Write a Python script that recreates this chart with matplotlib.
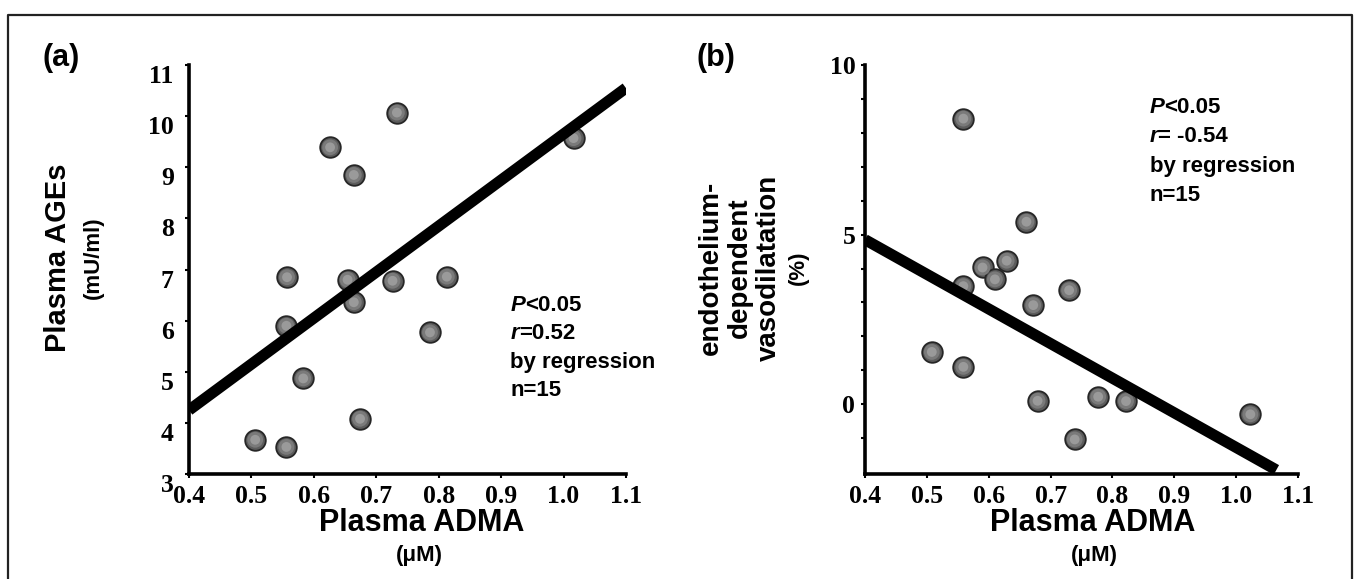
import matplotlib
matplotlib.use("Agg")
import matplotlib.pyplot as plt
import matplotlib.transforms as mtransforms
from matplotlib.lines import Line2D

# (a) plasma ADMA vs plasma AGEs
adma_a = [0.506, 0.556, 0.557, 0.556, 0.583, 0.626, 0.664, 0.654, 0.664, 0.674,
          0.726, 0.733, 0.786, 0.813, 1.016]
ages_a = [3.67, 3.53, 6.85, 5.90, 4.87, 9.39, 8.85, 6.80, 6.36, 4.08,
          6.78, 10.07, 5.77, 6.86, 9.57]
fit_a_x = [0.4, 1.1]
fit_a_y = [4.25, 10.55]

# (b) plasma ADMA vs endothelium-dependent vasodilatation
adma_b = [0.508, 0.559, 0.559, 0.559, 0.590, 0.610, 0.629, 0.661, 0.672, 0.679,
          0.730, 0.739, 0.777, 0.822, 1.023]
fmd_b = [1.54, 1.10, 3.48, 8.42, 4.03, 3.68, 4.23, 5.38, 2.92, 0.10,
         3.36, -1.04, 0.22, 0.09, -0.30]
fit_b_x = [0.4, 1.065]
fit_b_y = [4.85, -1.94]

xticks = [0.4, 0.5, 0.6, 0.7, 0.8, 0.9, 1.0, 1.1]
xticklabels = ["0.4", "0.5", "0.6", "0.7", "0.8", "0.9", "1.0", "1.1"]
yticks_a = [3, 4, 5, 6, 7, 8, 9, 10, 11]
yticks_b = [0, 5, 10]
yminor_b = [-1, 1, 2, 3, 4, 6, 7, 8, 9]

SANS = ["Liberation Sans", "DejaVu Sans"]
SERIF = ["Liberation Serif", "DejaVu Serif"]

fig = plt.figure(figsize=(13.59, 5.79), dpi=100)
ax_a = fig.add_axes([0.1391, 0.1813, 0.3215, 0.7064])
ax_b = fig.add_axes([0.6365, 0.1813, 0.3186, 0.7064])


def balls(ax, x, y):
    # shaded grey spheres
    ax.scatter(x, y, s=220, c="#5c5c5c", edgecolors="#262626", linewidths=1.3, zorder=3)
    ax.scatter(x, y, s=130, c="#7a7a7a", edgecolors="none", zorder=4)
    ax.scatter(x, y, s=50, c="#9a9a9a", edgecolors="none", zorder=5)


def style(ax, ypad):
    for side in ("top", "right"):
        ax.spines[side].set_visible(False)
    for side in ("left", "bottom"):
        ax.spines[side].set_linewidth(2.6)
    ax.set_xlim(0.4, 1.1)
    ax.set_xticks(xticks)
    ax.set_xticklabels(xticklabels)
    ax.tick_params(axis="x", direction="out", length=3, width=1.5, pad=5)
    ax.tick_params(axis="y", direction="out", length=3, width=1.5, pad=ypad)
    ax.tick_params(which="minor", direction="out", length=3, width=1.5)
    for lab in ax.get_xticklabels() + ax.get_yticklabels():
        lab.set_family(SERIF)
        lab.set_fontweight("bold")
        lab.set_fontsize(18.5)


def stats(ax, x, ys, rtext):
    t = ax.text(x, ys[0], "P", style="italic", fontsize=16, fontweight="bold",
                family=SANS, va="center")
    ax.annotate("<0.05", xy=(1, 0.5), xycoords=t, va="center", fontsize=16,
                fontweight="bold", family=SANS)
    t = ax.text(x, ys[1], "r", style="italic", fontsize=16, fontweight="bold",
                family=SANS, va="center")
    ax.annotate(rtext, xy=(1, 0.5), xycoords=t, va="center", fontsize=16,
                fontweight="bold", family=SANS)
    ax.text(x, ys[2], "by regression", fontsize=16, fontweight="bold",
            family=SANS, va="center")
    ax.text(x, ys[3], "n=15", fontsize=16, fontweight="bold",
            family=SANS, va="center")


# ---- panel (a)
balls(ax_a, adma_a, ages_a)
ax_a.plot(fit_a_x, fit_a_y, color="black", lw=8, solid_capstyle="butt", zorder=6)
ax_a.set_ylim(3, 11)
ax_a.set_yticks(yticks_a)
style(ax_a, 8)
shift = mtransforms.ScaledTranslation(0, -0.09, fig.dpi_scale_trans)
for lab in ax_a.get_yticklabels():
    lab.set_transform(lab.get_transform() + shift)

ax_a.text(-0.30, 0.528, "Plasma AGEs", rotation=90, ha="center", va="center",
          fontsize=21, fontweight="bold", family=SANS, transform=ax_a.transAxes)
ax_a.text(-0.22, 0.528, "(mU/ml)", rotation=90, ha="center", va="center",
          fontsize=16, fontweight="bold", family=SANS, transform=ax_a.transAxes)
ax_a.text(0.532, -0.12, "Plasma ADMA", ha="center", va="center",
          fontsize=22, fontweight="bold", family=SANS, transform=ax_a.transAxes)
ax_a.text(0.528, -0.198, "(\u03bcM)", ha="center", va="center",
          fontsize=16, fontweight="bold", family=SANS, transform=ax_a.transAxes)
stats(ax_a, 0.915, [6.29, 5.74, 5.19, 4.64], "=0.52")

# ---- panel (b)
balls(ax_b, adma_b, fmd_b)
ax_b.plot(fit_b_x, fit_b_y, color="black", lw=8, solid_capstyle="butt", zorder=6)
ax_b.set_ylim(-2.06, 10)
ax_b.set_yticks(yticks_b)
ax_b.set_yticks(yminor_b, minor=True)
style(ax_b, 4)

ax_b.text(-0.29, 0.504, "endothelium-\ndependent\nvasodilatation", rotation=90,
          ha="center", va="center", fontsize=20, fontweight="bold", family=SANS,
          linespacing=1.15, transform=ax_b.transAxes)
ax_b.text(-0.153, 0.504, "(%)", rotation=90, ha="center", va="center",
          fontsize=16, fontweight="bold", family=SANS, transform=ax_b.transAxes)
ax_b.text(0.525, -0.12, "Plasma ADMA", ha="center", va="center",
          fontsize=22, fontweight="bold", family=SANS, transform=ax_b.transAxes)
ax_b.text(0.53, -0.198, "(\u03bcM)", ha="center", va="center",
          fontsize=16, fontweight="bold", family=SANS, transform=ax_b.transAxes)
stats(ax_b, 0.86, [8.74, 7.88, 7.02, 6.15], "= -0.54")

# panel letters and outer frame
fig.text(43 / 1359, 1 - 43 / 579, "(a)", fontsize=22, fontweight="bold",
         family=SANS, ha="left", va="top")
fig.text(697 / 1359, 1 - 43 / 579, "(b)", fontsize=22, fontweight="bold",
         family=SANS, ha="left", va="top")
fx0, fx1, fy1 = 8 / 1359, 1352 / 1359, 1 - 15 / 579
fig.add_artist(Line2D([fx0, fx0, fx1, fx1], [0, fy1, fy1, 0], color="#222222",
                      lw=1.6, transform=fig.transFigure))

fig.savefig("out.png", dpi=100)
